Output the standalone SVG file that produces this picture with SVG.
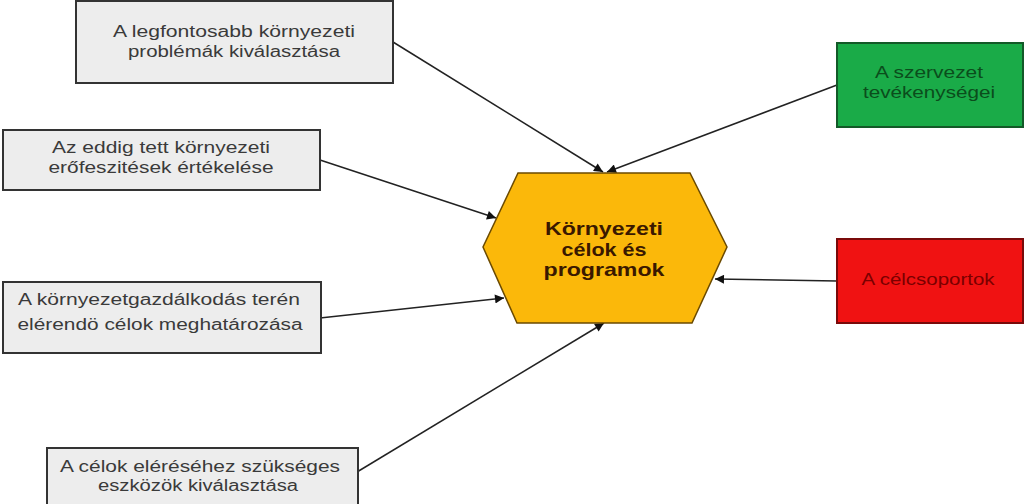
<svg xmlns="http://www.w3.org/2000/svg" width="1024" height="504" viewBox="0 0 1024 504">
<style>
.box{fill:#ededed;stroke:#333;stroke-width:2}
.t{font-family:"Liberation Sans",Arial,sans-serif;font-size:16px;fill:#3a3a3a;text-anchor:middle}
.h{font-family:"Liberation Sans",Arial,sans-serif;font-size:19px;font-weight:bold;fill:#3a1800;text-anchor:middle}
.c{stroke:#222;stroke-width:1.5;fill:none;marker-end:url(#ah)}
</style>
<defs>
<marker id="ah" viewBox="0 0 10 10" refX="10" refY="5" markerWidth="12" markerHeight="9" markerUnits="userSpaceOnUse" orient="auto">
<path d="M0,0 L10,5 L0,10 z" fill="#111"/>
</marker>
</defs>
<rect width="1024" height="504" fill="#fff"/>
<g id="connectors">
<line class="c" x1="393" y1="42" x2="603" y2="172"/>
<line class="c" x1="837" y1="85" x2="607" y2="172"/>
<line class="c" x1="320" y1="160" x2="496" y2="218"/>
<line class="c" x1="320" y1="318" x2="504" y2="298"/>
<line class="c" x1="357" y1="472" x2="604" y2="323"/>
<line class="c" x1="837" y1="281" x2="715" y2="279"/>
</g>
<g id="n1"><rect class="box" x="76" y="1" width="317" height="82"/>
<text class="t" x="234" y="37" textLength="242" lengthAdjust="spacingAndGlyphs">A legfontosabb környezeti</text>
<text class="t" x="234" y="57" textLength="212" lengthAdjust="spacingAndGlyphs">problémák kiválasztása</text></g>
<g id="n2"><rect class="box" x="3" y="130" width="317" height="60"/>
<text class="t" x="161" y="153" textLength="218" lengthAdjust="spacingAndGlyphs">Az eddig tett környezeti</text>
<text class="t" x="161" y="173" textLength="225" lengthAdjust="spacingAndGlyphs">erőfeszitések értékelése</text></g>
<g id="n3"><rect class="box" x="3" y="282" width="318" height="71"/>
<text class="t" x="159" y="305" textLength="282" lengthAdjust="spacingAndGlyphs">A környezetgazdálkodás terén</text>
<text class="t" x="160" y="330" textLength="285" lengthAdjust="spacingAndGlyphs">elérendö célok meghatározása</text></g>
<g id="n4"><rect class="box" x="47" y="448" width="311" height="60"/>
<text class="t" x="200" y="472" textLength="280" lengthAdjust="spacingAndGlyphs">A célok eléréséhez szükséges</text>
<text class="t" x="198" y="491" textLength="200" lengthAdjust="spacingAndGlyphs">eszközök kiválasztása</text></g>
<g id="n5"><rect x="837" y="43" width="186" height="84" fill="#1aab48" stroke="#135a28" stroke-width="2"/>
<text class="t" x="929" y="78" style="fill:#0b4d1c" textLength="108" lengthAdjust="spacingAndGlyphs">A szervezet</text>
<text class="t" x="929" y="98" style="fill:#0b4d1c" textLength="132" lengthAdjust="spacingAndGlyphs">tevékenységei</text></g>
<g id="n6"><rect x="837" y="239" width="186" height="84" fill="#f01212" stroke="#7a0a0a" stroke-width="2"/>
<text class="t" x="928" y="285" style="fill:#7a0000" textLength="133" lengthAdjust="spacingAndGlyphs">A célcsoportok</text></g>
<g id="hub"><polygon points="518,173 690,173 727,247 692,323 517,323 483,247" fill="#fbb80a" stroke="#6b4a00" stroke-width="1.5"/>
<text class="h" x="604" y="235" textLength="118" lengthAdjust="spacingAndGlyphs">Környezeti</text>
<text class="h" x="604" y="256" textLength="85" lengthAdjust="spacingAndGlyphs">célok és</text>
<text class="h" x="604" y="276" textLength="121" lengthAdjust="spacingAndGlyphs">programok</text></g>
</svg>
